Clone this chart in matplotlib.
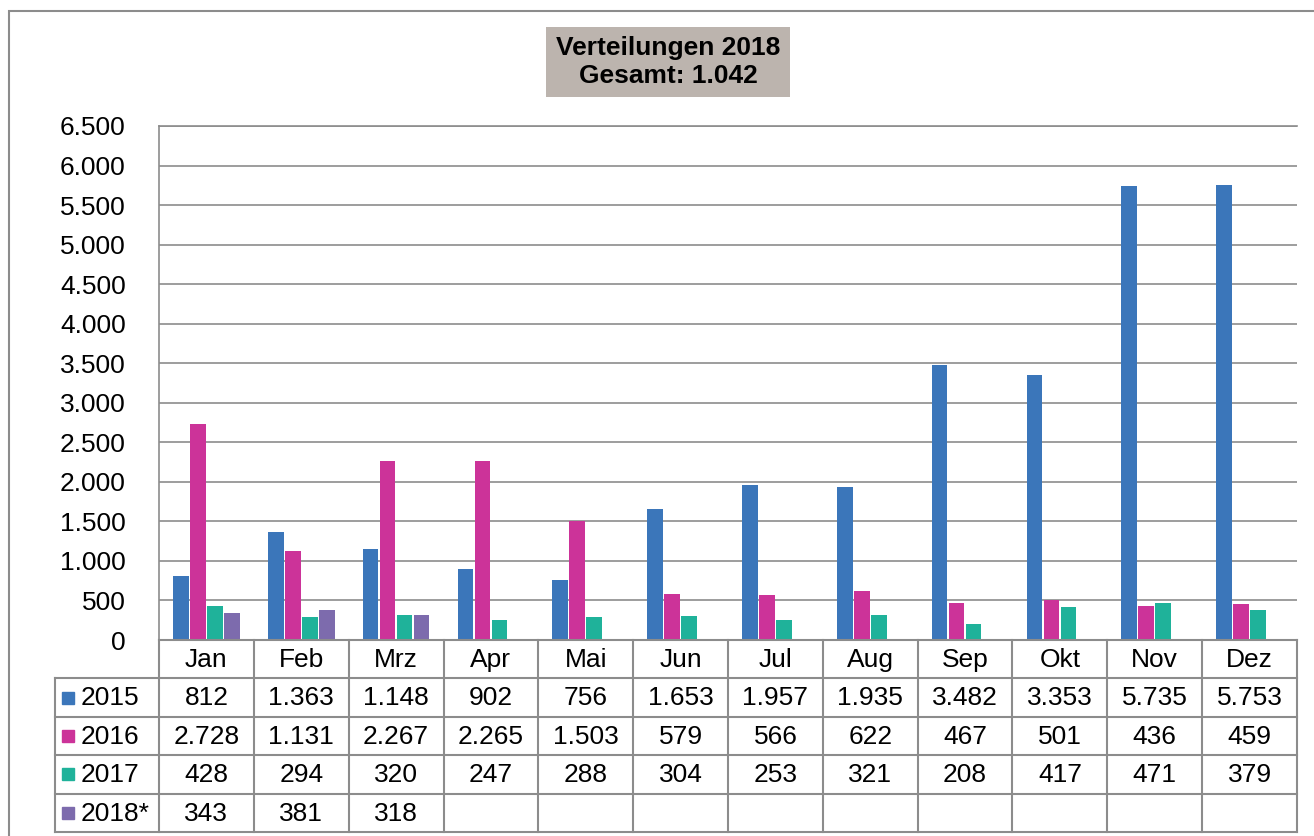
import numpy as np
import matplotlib
matplotlib.use("Agg")
import matplotlib.pyplot as plt
from matplotlib.patches import Rectangle
from matplotlib.ticker import FuncFormatter

plt.rcParams['font.family'] = ['Liberation Sans', 'DejaVu Sans']

months = ["Jan", "Feb", "Mrz", "Apr", "Mai", "Jun", "Jul", "Aug", "Sep", "Okt", "Nov", "Dez"]
series_names = ["2015", "2016", "2017", "2018*"]
v2015 = [812, 1363, 1148, 902, 756, 1653, 1957, 1935, 3482, 3353, 5735, 5753]
v2016 = [2728, 1131, 2267, 2265, 1503, 579, 566, 622, 467, 501, 436, 459]
v2017 = [428, 294, 320, 247, 288, 304, 253, 321, 208, 417, 471, 379]
v2018 = [343, 381, 318]
colors = ["#3B76BA", "#CC3399", "#1FB29A", "#7D6BAD"]
title = "Verteilungen 2018\nGesamt: 1.042"

series = [v2015, v2016, v2017, v2018]

W, H = 1314, 836
fig = plt.figure(figsize=(W / 100, H / 100), dpi=100)
grid_c = "#8C8C8C"
fs = 19


def de(v):
    return f"{int(v):,}".replace(",", ".")


# pixel -> figure fraction helpers
def fx(px):
    return px / W


def fy(py):
    return 1 - py / H


# outer frame
fig.patches.append(Rectangle((fx(9), fy(H + 10)), fx(W + 20) - fx(9), fy(11) - fy(H + 10),
                             transform=fig.transFigure, fill=False, edgecolor=grid_c, lw=1.5))

left, right, top, bottom = 159, 1297, 126, 640
ax = fig.add_axes([fx(left), fy(bottom), fx(right) - fx(left), fy(top) - fy(bottom)])
x = np.arange(len(months))
step, bw = 0.179, 0.165
for i, (vals, c) in enumerate(zip(series, colors)):
    xs = x[:len(vals)] + (i - 1.5) * step
    ax.bar(xs, vals, width=bw, color=c, zorder=3)

ax.set_xlim(-0.5, 11.5)
ax.set_ylim(0, 6500)
ax.set_yticks(np.arange(0, 6501, 500))
ax.yaxis.set_major_formatter(FuncFormatter(lambda v, p: de(v)))
ax.tick_params(axis="y", length=0, pad=24, labelsize=fs)
ax.set_xticks([])
ax.grid(axis="y", color=grid_c, lw=1.2, zorder=0)
for s in ["right", "bottom"]:
    ax.spines[s].set_visible(False)
ax.spines["top"].set_color(grid_c)
ax.spines["top"].set_linewidth(1.2)
ax.spines["left"].set_color(grid_c)
ax.spines["left"].set_linewidth(1.2)

# data table below the plot, sharing the month scale
tl, tb = 55, 832
colw = (right - left) / 12
lead = (left - tl) / colw
tab = fig.add_axes([fx(tl), fy(tb), fx(right) - fx(tl), fy(bottom) - fy(tb)])
tab.set_xlim(-0.5 - lead, 11.5)
tab.set_ylim(5, 0)
tab.axis("off")
lkw = dict(color=grid_c, lw=1.5, clip_on=False)
tab.plot([-0.5, 11.5], [0, 0], **lkw)
for r in range(1, 6):
    tab.plot([-0.5 - lead, 11.5], [r, r], **lkw)
for k in range(13):
    tab.plot([k - 0.5, k - 0.5], [0, 5], **lkw)
tab.plot([-0.5 - lead, -0.5 - lead], [1, 5], **lkw)

for j, m in enumerate(months):
    tab.text(j, 0.52, m, ha="center", va="center", fontsize=fs)
for i, (name, vals, c) in enumerate(zip(series_names, series, colors)):
    r = i + 1.52
    tab.plot(-0.5 - lead + 0.14, r - 0.02, marker="s", ms=8.5, color=c, clip_on=False)
    tab.text(-0.5 - lead + 0.27, r, name, ha="left", va="center", fontsize=fs)
    for j, v in enumerate(vals):
        tab.text(j, r, de(v), ha="center", va="center", fontsize=fs)

# title box
bx0, bx1, by0, by1 = 546, 790, 27, 97
fig.patches.append(Rectangle((fx(bx0), fy(by1)), fx(bx1) - fx(bx0), fy(by0) - fy(by1),
                             transform=fig.transFigure, facecolor="#BCB4AE", edgecolor="none"))
fig.text(fx((bx0 + bx1) / 2), fy((by0 + by1) / 2), title, ha="center", va="center",
         fontsize=fs, fontweight="bold", linespacing=1.2)

fig.savefig("out.png", dpi=100)
